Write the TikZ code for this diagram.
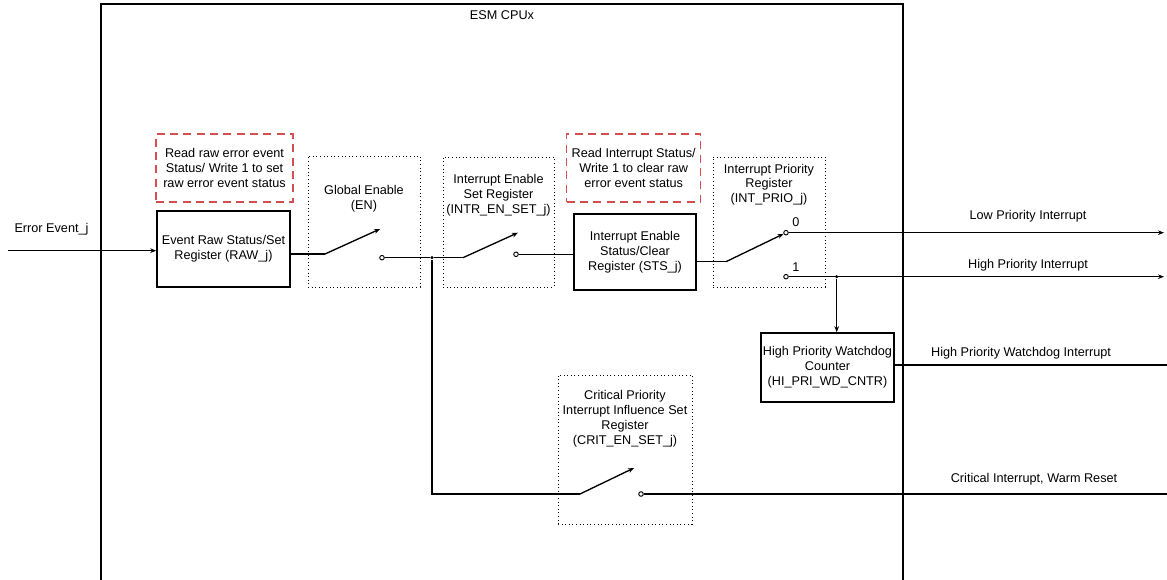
\documentclass[tikz,border=0pt]{standalone}
\usepackage{fontspec}
\setmainfont{Liberation Sans}
\usetikzlibrary{positioning,arrows.meta}
\definecolor{noteRed}{RGB}{210,80,80}
\def\px{0.75pt}

\begin{document}
\begin{tikzpicture}[x=0.75pt,y=-0.75pt,>={Stealth[length=4.5pt,width=3.5pt]},
  line width=1pt,
  font=\fontsize{9.5}{11.2}\selectfont,
  regbox/.style={draw,line width=1.2pt,align=center,inner sep=0pt},
  dotbox/.style={draw,dotted,line width=0.7pt,inner sep=0pt},
  notebox/.style={draw=noteRed,dash pattern=on 6pt off 4pt,line width=1pt,align=center,inner sep=0pt},
  contact/.style={circle,draw,fill=white,line width=0.7pt,inner sep=0pt,minimum size=3.4pt},
  junc/.style={circle,fill,inner sep=0pt,minimum size=2.6pt},
  lbl/.style={align=center,inner sep=0pt}]
  \useasboundingbox (0,0) rectangle (1167,580);

  % ESM CPUx frame
  \draw[line width=1.2pt] (101,580) -- (101,4) -- (903,4) -- (903,580);
  \node[lbl] (cpu) at (502,15) {ESM CPUx};

  % registers
  \node[regbox,minimum width=133*\px,minimum height=76*\px] (raw) at (223.5,249)
    {Event Raw Status/Set\\Register (RAW\_j)};
  \node[regbox,minimum width=122*\px,minimum height=76*\px] (sts) at (635,252)
    {Interrupt Enable\\Status/Clear\\Register (STS\_j)};
  \node[regbox,minimum width=133*\px,minimum height=69*\px] (wdc) at (827.5,367.5)
    {High Priority Watchdog\\Counter\\(HI\_PRI\_WD\_CNTR)};

  % notes
  \node[notebox,minimum width=137*\px,minimum height=68*\px] (rawNote) at (224.5,168)
    {Read raw error event\\Status/ Write 1 to set\\raw error event status};
  \node[notebox,minimum width=134*\px,minimum height=68*\px] (stsNote) at (633.7,168)
    {Read Interrupt Status/\\Write 1 to clear raw\\error event status};

  % switch boxes
  \node[dotbox,minimum width=112*\px,minimum height=131*\px] (enBox) at (364,221.5) {};
  \node[dotbox,minimum width=111*\px,minimum height=130*\px] (intrBox) at (498.5,222) {};
  \node[dotbox,minimum width=112*\px,minimum height=130*\px] (prioBox) at (769,222) {};
  \node[dotbox,minimum width=134*\px,minimum height=149*\px] (critBox) at (625,449.5) {};
  \node[lbl] (enLbl) at (364,198.3) {Global Enable\\(EN)};
  \node[lbl] (intrLbl) at (498.5,195.5) {Interrupt Enable\\Set Register\\(INTR\_EN\_SET\_j)};
  \node[lbl] (prioLbl) at (769,184.7) {Interrupt Priority\\Register\\(INT\_PRIO\_j)};
  \node[lbl] (critLbl) at (625,418.5) {Critical Priority\\Interrupt Influence Set\\Register\\(CRIT\_EN\_SET\_j)};

  % switch points
  \coordinate (enP) at (325,254);
  \coordinate (enT) at (380,229);
  \node[contact] (enC) at (382,257.7) {};
  \node[junc] (juncA) at (432,257.7) {};
  \coordinate (intrP) at (463,257.7);
  \coordinate (intrT) at (518,232.7);
  \node[contact] (intrC) at (516,254.3) {};
  \coordinate (prioP) at (726,261.7);
  \node[contact] (prio0) at (786,232.7) {};
  \node[contact] (prio1) at (786,276.7) {};
  \node[lbl] (prio0Lbl) at (796,222) {0};
  \node[lbl] (prio1Lbl) at (796,267) {1};
  \node[junc] (juncB) at (836.7,276.7) {};
  \coordinate (critP) at (580,494);
  \coordinate (critT) at (634,468);
  \node[contact] (critC) at (641,494) {};

  % ends
  \coordinate (inStart) at (8,250.7);
  \coordinate (lowEnd) at (1164,232.7);
  \coordinate (highEnd) at (1164,276.7);
  \coordinate (wdEnd) at (1167,365);
  \coordinate (critEnd) at (1167,494);

  % signal path
  \draw[->] (inStart) -- (raw.west |- inStart);
  \draw (raw.east |- enP) -- (enP);
  \draw[->] (enP) -- (enT);
  \draw (enC) -- (juncA) -- (intrP);
  \draw[->] (intrP) -- (intrT);
  \draw (intrC) -- (sts.west |- intrC);
  \draw (sts.east |- prioP) -- (prioP);
  \draw[->] (prioP) -- (prio0);
  \draw[->] (prio0) -- (lowEnd);
  \draw[->] (prio1) -- (highEnd);
  \draw[->] (juncB) -- (juncB |- wdc.north);
  \draw (wdc.east |- wdEnd) -- (wdEnd);
  \draw (juncA) |- (critP);
  \draw[->] (critP) -- (critT);
  \draw (critC) -- (critEnd);

  % outputs
  \node[lbl] (errLbl) at (51.5,229) {Error Event\_j};
  \node[lbl] (lowLbl) at (1028,216.7) {Low Priority Interrupt};
  \node[lbl] (highLbl) at (1028,265) {High Priority Interrupt};
  \node[lbl] (wdLbl) at (1021,353) {High Priority Watchdog Interrupt};
  \node[lbl] (critOutLbl) at (1034,479) {Critical Interrupt, Warm Reset};
\end{tikzpicture}
\end{document}
